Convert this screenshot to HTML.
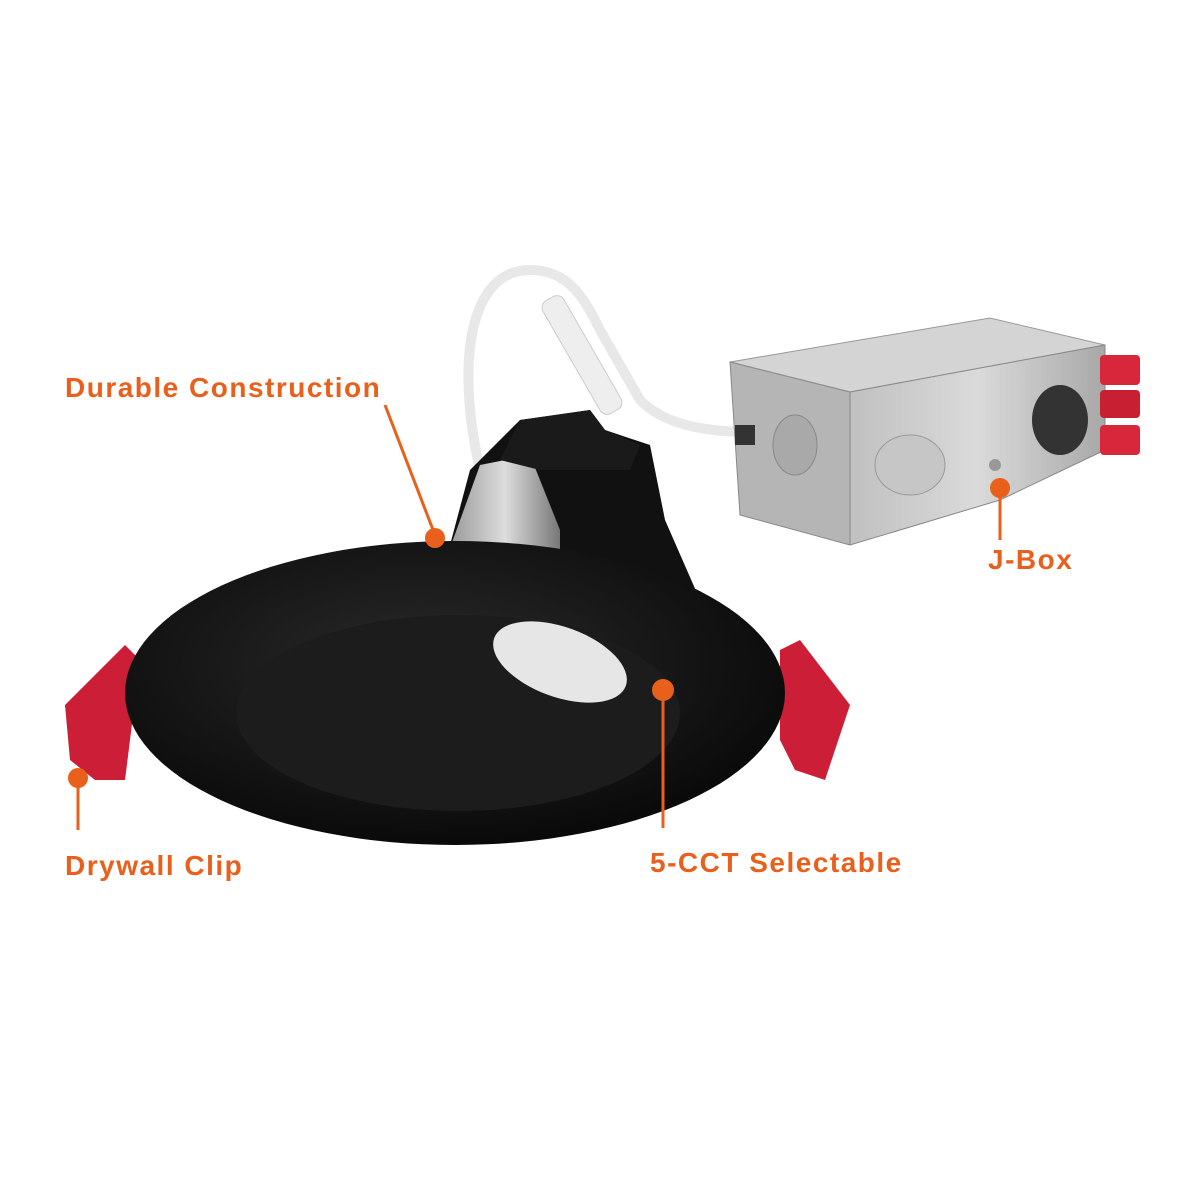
<!DOCTYPE html>
<html><head><meta charset="utf-8"><style>
html,body{margin:0;padding:0;background:#fff;}
.w{position:relative;width:1200px;height:1200px;overflow:hidden;}
.l{position:absolute;font-family:"Liberation Sans",sans-serif;font-weight:bold;color:#e8601c;font-size:28px;letter-spacing:1.5px;white-space:nowrap;}
svg{position:absolute;left:0;top:0;}
</style></head><body><div class="w">
<svg width="1200" height="1200" viewBox="0 0 1200 1200">
<defs>
<linearGradient id="bx" x1="0" y1="0" x2="1" y2="0"><stop offset="0" stop-color="#c0c0c0"/><stop offset="0.5" stop-color="#dadada"/><stop offset="1" stop-color="#a8a8a8"/></linearGradient>
<radialGradient id="tr" cx="0.45" cy="0.4" r="0.6"><stop offset="0" stop-color="#2a2a2a"/><stop offset="1" stop-color="#0a0a0a"/></radialGradient>
<linearGradient id="hs" x1="0" y1="0" x2="1" y2="0"><stop offset="0" stop-color="#999"/><stop offset="0.5" stop-color="#ddd"/><stop offset="1" stop-color="#777"/></linearGradient>
</defs>
<path d="M480,470 C455,360 470,270 530,270 C570,270 585,300 600,330 L640,400 C660,420 690,430 740,432" fill="none" stroke="#e8e8e8" stroke-width="10"/>
<rect x="570" y="290" width="24" height="130" rx="8" fill="#eee" stroke="#ccc" transform="rotate(-30 582 355)"/>
<polygon points="730,362 990,318 1105,345 850,392" fill="#d4d4d4" stroke="#999"/>
<polygon points="730,362 850,392 850,545 740,515" fill="#b5b5b5" stroke="#888"/>
<polygon points="850,392 1105,345 1105,450 1000,500 850,545" fill="url(#bx)" stroke="#888"/>
<ellipse cx="910" cy="465" rx="35" ry="30" fill="#c6c6c6" stroke="#999"/>
<ellipse cx="795" cy="445" rx="22" ry="30" fill="#a9a9a9" stroke="#888"/>
<ellipse cx="1060" cy="420" rx="28" ry="35" fill="#333"/>
<circle cx="995" cy="465" r="6" fill="#999"/>
<rect x="1100" y="355" width="40" height="30" rx="4" fill="#d8263a"/>
<rect x="1100" y="390" width="40" height="28" rx="4" fill="#c81f33"/>
<rect x="1100" y="425" width="40" height="30" rx="4" fill="#d8263a"/>
<rect x="735" y="425" width="20" height="20" fill="#333"/>
<polygon points="520,420 590,410 605,430 650,445 665,520 700,600 560,570 450,545 470,470" fill="#111"/>
<polygon points="480,465 530,455 560,530 560,575 450,548" fill="url(#hs)"/>
<polygon points="520,420 590,410 605,430 640,445 630,470 540,470 500,460" fill="#1a1a1a"/>
<polygon points="65,705 125,645 140,660 125,780 95,780 70,760" fill="#cc1e36"/>
<polygon points="780,650 800,640 850,705 825,780 795,770 780,740" fill="#cc1e36"/>
<ellipse cx="455" cy="693" rx="330" ry="152" fill="url(#tr)"/>
<ellipse cx="458" cy="713" rx="222" ry="98" fill="#1c1c1c"/>
<ellipse cx="560" cy="662" rx="70" ry="35" fill="#e6e6e6" transform="rotate(20 560 662)"/>
<g stroke="#e8601c" stroke-width="3" fill="none">
<line x1="385" y1="405" x2="435" y2="535"/>
<line x1="1000" y1="490" x2="1000" y2="540"/>
<line x1="78" y1="780" x2="78" y2="830"/>
<line x1="663" y1="690" x2="663" y2="828"/>
</g>
<g fill="#e8601c">
<circle cx="435" cy="538" r="10"/>
<circle cx="1000" cy="488" r="10"/>
<circle cx="78" cy="778" r="10"/>
<circle cx="663" cy="690" r="11"/>
</g>
</svg>
<div class="l" style="left:65px;top:372px;">Durable Construction</div>
<div class="l" style="left:988px;top:544px;">J-Box</div>
<div class="l" style="left:65px;top:850px;">Drywall Clip</div>
<div class="l" style="left:650px;top:847px;">5-CCT Selectable</div>
</div></body></html>
